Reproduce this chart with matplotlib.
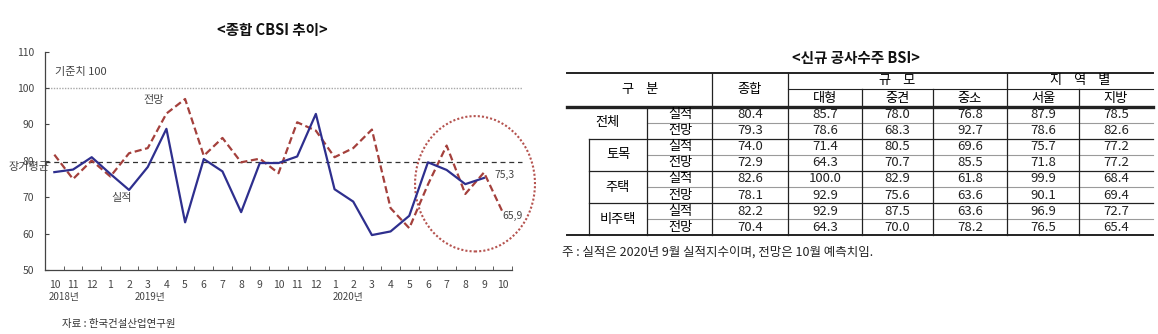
import matplotlib
matplotlib.use("Agg")
import matplotlib.pyplot as plt
from matplotlib.patches import Ellipse
import matplotlib.transforms as mtransforms

plt.rcParams['font.family'] = ['Noto Sans CJK KR', 'DejaVu Sans']

# ---- composite CBSI trend (2018.10 - 2020.10) ----
months = ['10', '11', '12', '1', '2', '3', '4', '5', '6', '7', '8', '9',
          '10', '11', '12', '1', '2', '3', '4', '5', '6', '7', '8', '9', '10']
actual = [76.9, 77.6, 81.0, 76.4, 72.0, 78.3, 88.8, 63.1, 80.5, 77.1, 65.9, 79.4,
          79.4, 81.2, 92.9, 72.2, 68.8, 59.6, 60.6, 64.9, 79.6, 77.5, 73.6, 75.3]
forecast = [81.7, 75.0, 80.1, 75.7, 82.1, 83.5, 93.0, 97.0, 81.4, 86.3, 79.6, 80.6,
            76.6, 90.6, 88.3, 81.0, 83.5, 88.6, 67.0, 61.5, 73.5, 84.2, 70.9, 76.8, 65.9]
baseline = 100
long_term_avg = 79.6
year_labels = ['2018년', '2019년', '2020년']
year_pos = [0.5, 5.1, 15.7]

# ---- new construction orders BSI table ----
row_groups = ['전체', '토목', '주택', '비주택']
row_kinds = ['실적', '전망']
col_names = ['종합', '대형', '중견', '중소', '서울', '지방']
total = [80.4, 79.3, 74.0, 72.9, 82.6, 78.1, 82.2, 70.4]
large = [85.7, 78.6, 71.4, 64.3, 100.0, 92.9, 92.9, 64.3]
midsize = [78.0, 68.3, 80.5, 70.7, 82.9, 75.6, 87.5, 70.0]
small = [76.8, 92.7, 69.6, 85.5, 61.8, 63.6, 63.6, 78.2]
seoul = [87.9, 78.6, 75.7, 71.8, 99.9, 90.1, 96.9, 76.5]
regional = [78.5, 82.6, 77.2, 77.2, 68.4, 69.4, 72.7, 65.4]
table_cols = [total, large, midsize, small, seoul, regional]

W, H = 1158, 334
fig = plt.figure(figsize=(W / 100, H / 100), dpi=100)

# chart axes placed in pixel terms
x0, x1, ytop, ybot = 45, 512, 51.7, 270
ax = fig.add_axes([x0 / W, (H - ybot) / H, (x1 - x0) / W, (ybot - ytop) / H])
n = len(months)
xs = list(range(n))
ax.set_xlim(-0.5, n - 0.5)
ax.set_ylim(50, 110)

blue = '#2E2F8E'
red = '#A4403C'
ax.plot(xs[:len(actual)], actual, color=blue, lw=1.6, zorder=4)
ax.plot(xs, forecast, color=red, lw=1.6, dashes=(3.2, 1.6), zorder=3)

ax.axhline(baseline, xmin=0, xmax=(522 - x0) / (x1 - x0), color='#A8A8A8',
           lw=1.0, ls=(0, (1, 1)), clip_on=False, zorder=1)
ax.axhline(long_term_avg, xmin=0, xmax=(522 - x0) / (x1 - x0), color='#333333',
           lw=0.9, ls=(0, (4, 3)), clip_on=False, zorder=2)

ax.add_patch(Ellipse((22.52, 73.7), 6.42, 37.2, fill=False, edgecolor='#B5534F',
                     lw=1.5, ls=(0, (1, 1)), clip_on=False, zorder=2))

for s in ['top', 'right']:
    ax.spines[s].set_visible(False)
for s in ['left', 'bottom']:
    ax.spines[s].set_color('#444444')
    ax.spines[s].set_linewidth(0.9)

ax.set_yticks(range(50, 111, 10))
ax.tick_params(axis='y', direction='in', length=3, labelsize=7.5,
               labelcolor='#444444', color='#444444', pad=8)
ax.set_xticks(xs)
ax.set_xticklabels(months)
ax.tick_params(axis='x', length=0, labelsize=7.5, labelcolor='#444444', pad=7)
ax.set_xticks([i - 0.5 for i in range(n + 1)], minor=True)
ax.tick_params(axis='x', which='minor', direction='in', length=3, color='#444444')

tr = mtransforms.blended_transform_factory(ax.transData, ax.transAxes)
for lbl, p in zip(year_labels, year_pos):
    ax.text(p, -0.125, lbl, transform=tr, ha='center', va='center',
            fontsize=7, color='#444444')

ax.text(0.05, 104.3, '기준치 100', fontsize=8, color='#444444', va='center')
ax.text(5.3, 96.6, '전망', fontsize=8, color='#444444', ha='center', va='center')
ax.text(3.6, 69.8, '실적', fontsize=8, color='#444444', ha='center', va='center')
ax.text(-1.35, 78.4, '장기평균', fontsize=8, color='#444444', ha='center',
        va='center', clip_on=False)
ax.text(23.55, actual[-1] + 0.7, f'{actual[-1]}'.replace('.', ','), fontsize=7.5,
        color='#444444', va='center')
ax.text(24.0, forecast[-1] - 1.0, f'{forecast[-1]}'.replace('.', ','), fontsize=7.5,
        color='#444444', va='center')

# overlay in pixel coordinates for titles, notes and the table
ov = fig.add_axes([0, 0, 1, 1], zorder=5)
ov.set_xlim(0, W)
ov.set_ylim(H, 0)
ov.axis('off')
ov.patch.set_alpha(0)

ov.text(272, 30, '<종합 CBSI 추이>', ha='center', va='center', fontsize=10.5,
        fontweight='bold', color='#111111')
ov.text(62, 324, '자료 : 한국건설산업연구원', ha='left', va='center', fontsize=7.5,
        color='#333333')

ov.text(856, 58, '<신규 공사수주 BSI>', ha='center', va='center', fontsize=10.5,
        fontweight='bold', color='#111111')

# table geometry
tl, tr_ = 567, 1153
vx = [712, 788, 862, 933, 1007, 1079]
col_edges = [712, 788, 862, 933, 1007, 1079, 1153]
y_top, y_mid, y_head = 72.5, 89.3, 106.5
rh = 16.1
row_y = [y_head + rh * i for i in range(9)]
dark = '#222222'

ov.plot([tl, tr_], [y_top, y_top], color=dark, lw=1.4)
ov.plot([788, tr_], [y_mid, y_mid], color=dark, lw=0.8)
ov.plot([tl, tr_], [y_head, y_head], color=dark, lw=2.4)
ov.plot([tl, tr_], [row_y[-1], row_y[-1]], color=dark, lw=1.4)
for i in range(1, 8):
    if i % 2 == 1:
        ov.plot([647, tr_], [row_y[i], row_y[i]], color='#9A9A9A', lw=0.8)
    else:
        ov.plot([589, tr_], [row_y[i], row_y[i]], color=dark, lw=0.9)
for x in [712, 788, 1007]:
    ov.plot([x, x], [y_top, row_y[-1]], color=dark, lw=0.9)
for x in [862, 933, 1079]:
    ov.plot([x, x], [y_mid, row_y[-1]], color=dark, lw=0.9)
ov.plot([647, 647], [y_head, row_y[-1]], color=dark, lw=0.9)
ov.plot([589, 589], [row_y[2], row_y[-1]], color=dark, lw=0.9)

fs = 9.5
ov.text(640, (y_top + y_head) / 2, '구    분', ha='center', va='center', fontsize=fs)
ov.text(750, (y_top + y_head) / 2, '종합', ha='center', va='center', fontsize=fs)
ov.text(897, (y_top + y_mid) / 2, '규    모', ha='center', va='center', fontsize=fs)
ov.text(1080, (y_top + y_mid) / 2, '지    역    별', ha='center', va='center', fontsize=fs)
for j in range(1, 6):
    cx = (col_edges[j] + col_edges[j + 1]) / 2
    ov.text(cx, (y_mid + y_head) / 2 + 0.5, col_names[j], ha='center', va='center',
            fontsize=fs)

for g, name in enumerate(row_groups):
    cy = row_y[2 * g + 1]
    cx = 607 if g == 0 else 618
    ov.text(cx, cy, name, ha='center', va='center', fontsize=fs)
for r in range(8):
    cy = (row_y[r] + row_y[r + 1]) / 2
    ov.text(680, cy, row_kinds[r % 2], ha='center', va='center', fontsize=fs)
    for j, col in enumerate(table_cols):
        cx = (col_edges[j] + col_edges[j + 1]) / 2
        ov.text(cx, cy, f'{col[r]:.1f}', ha='center', va='center', fontsize=fs,
                color='#222222')

ov.text(562, 252, '주 : 실적은 2020년 9월 실적지수이며, 전망은 10월 예측치임.',
        ha='left', va='center', fontsize=9, color='#222222')

fig.savefig('out.png', dpi=100)
